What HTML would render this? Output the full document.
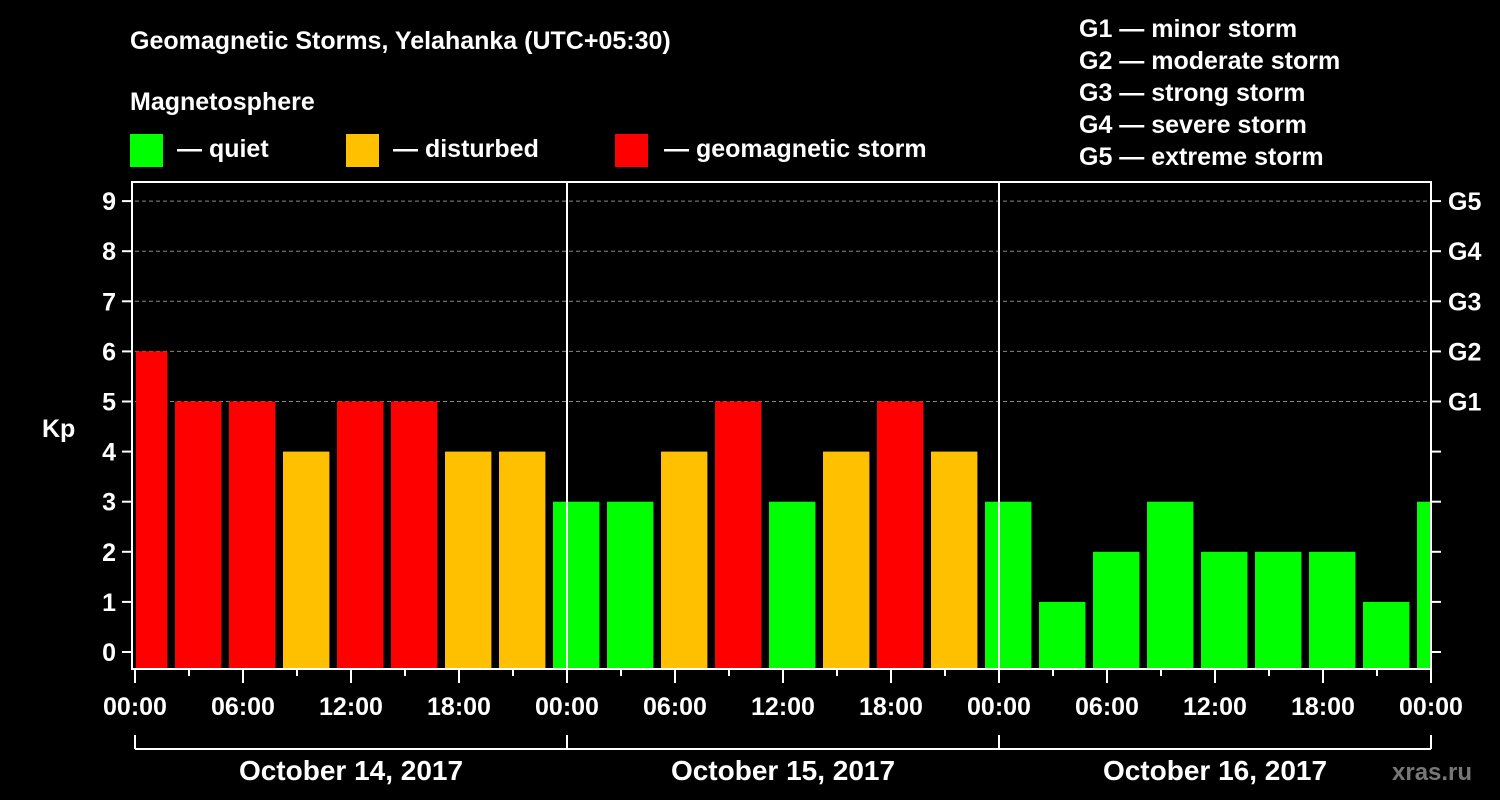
<!DOCTYPE html>
<html><head><meta charset="utf-8"><style>
body{margin:0;background:#000;}
svg{display:block;font-family:"Liberation Sans",sans-serif;font-weight:bold;}
</style></head><body>
<svg id="c" width="1500" height="800" viewBox="0 0 1500 800">
<rect width="1500" height="800" fill="#000"/>
<g fill="#fff" font-size="25">
<text x="130" y="49">Geomagnetic Storms, Yelahanka (UTC+05:30)</text>
<text x="130" y="110">Magnetosphere</text>
<rect x="130" y="134" width="33" height="33" fill="#00ff00"/>
<text x="177" y="157">— quiet</text>
<rect x="346" y="134" width="33" height="33" fill="#ffc000"/>
<text x="393" y="157">— disturbed</text>
<rect x="615" y="134" width="33" height="33" fill="#ff0000"/>
<text x="664" y="157">— geomagnetic storm</text>
<text x="1079" y="37">G1 — minor storm</text>
<text x="1079" y="69">G2 — moderate storm</text>
<text x="1079" y="101">G3 — strong storm</text>
<text x="1079" y="133">G4 — severe storm</text>
<text x="1079" y="165">G5 — extreme storm</text>
<text x="42" y="437">Kp</text>
<text x="1392" y="780" font-size="24" fill="#777">xras.ru</text>
</g>
<g id="grid"></g><g id="bars"></g><g id="axes"></g>
</svg>
<script>
const kpValues=[6,5,5,4,5,5,4,4,3,3,4,5,3,4,5,4,3,1,2,3,2,2,2,1,3];
const startHours=[0,2.1667,5.1667,8.1667,11.1667,14.1667,17.1667,20.1667,23.1667,26.1667,29.1667,32.1667,35.1667,38.1667,41.1667,44.1667,47.1667,50.1667,53.1667,56.1667,59.1667,62.1667,65.1667,68.1667,71.1667];
const endHours=[1.8,4.8,7.8,10.8,13.8,16.8,19.8,22.8,25.8,28.8,31.8,34.8,37.8,40.8,43.8,46.8,49.8,52.8,55.8,58.8,61.8,64.8,67.8,70.8,72];
const dayLabels=["October 14, 2017","October 15, 2017","October 16, 2017"];
const timeLabels=["00:00","06:00","12:00","18:00"];
const gLabels=["G1","G2","G3","G4","G5"];
const NS="http://www.w3.org/2000/svg";
const X0=135,PXH=18,Y0=652,PXK=50.1,BOT=668,TOP=182,RIGHT=1431;
const x=h=>X0+h*PXH, y=k=>Y0-k*PXK;
function mk(t,a,p){const e=document.createElementNS(NS,t);for(const k in a)e.setAttribute(k,a[k]);document.getElementById(p).appendChild(e);return e;}
for(let k=5;k<=9;k++){
 const l=mk('line',{x1:X0,x2:RIGHT,y1:y(k),y2:y(k),stroke:'#888','stroke-dasharray':'4,3','stroke-width':1},'grid');
 
 
}
kpValues.forEach((v,i)=>{
 const c=v>=5?'#ff0000':v>=4?'#ffc000':'#00ff00';
 const r=mk('rect',{x:x(startHours[i])+1,y:y(v),width:x(endHours[i])-x(startHours[i])-1,height:BOT-y(v),fill:c},'bars');
 
 
});
const A='axes';
mk('rect',{x:132,y:TOP,width:RIGHT-132,height:BOT+1-TOP,fill:'none',stroke:'#fff','stroke-width':2},A);
[1,2].forEach(d=>{const l=mk('line',{x1:x(24*d),x2:x(24*d),y1:TOP,y2:BOT,stroke:'#fff','stroke-width':2},A);
 
 });
for(let k=0;k<=9;k++){
 mk('line',{x1:122,x2:132,y1:y(k),y2:y(k),stroke:'#fff','stroke-width':2},A);
 mk('line',{x1:RIGHT,x2:RIGHT+10,y1:y(k),y2:y(k),stroke:'#fff','stroke-width':2},A);
 const t=mk('text',{x:116,y:y(k)+9,'text-anchor':'end',fill:'#fff','font-size':25},A);t.textContent=k;
 
 
 if(k>=5){const g=mk('text',{x:1448,y:y(k)+9,fill:'#fff','font-size':25},A);g.textContent=gLabels[k-5];
  
  }
}
for(let h=0;h<=72;h+=3){
 const long=h%6===0;
 mk('line',{x1:x(h),x2:x(h),y1:BOT+1,y2:BOT+(long?15:8),stroke:'#fff','stroke-width':2},A);
 if(long){const t=mk('text',{x:x(h),y:715,'text-anchor':'middle',fill:'#fff','font-size':25},A);
  t.textContent=timeLabels[(h%24)/6];
  
  }
}
mk('line',{x1:X0,x2:RIGHT,y1:749,y2:749,stroke:'#fff','stroke-width':2},A);
for(let d=0;d<=3;d++)mk('line',{x1:x(24*d),x2:x(24*d),y1:735,y2:749,stroke:'#fff','stroke-width':2},A);
dayLabels.forEach((s,d)=>{const t=mk('text',{x:x(24*d+12),y:780,'text-anchor':'middle',fill:'#fff','font-size':28},A);t.textContent=s;
 
 });
</script>
</body></html>
